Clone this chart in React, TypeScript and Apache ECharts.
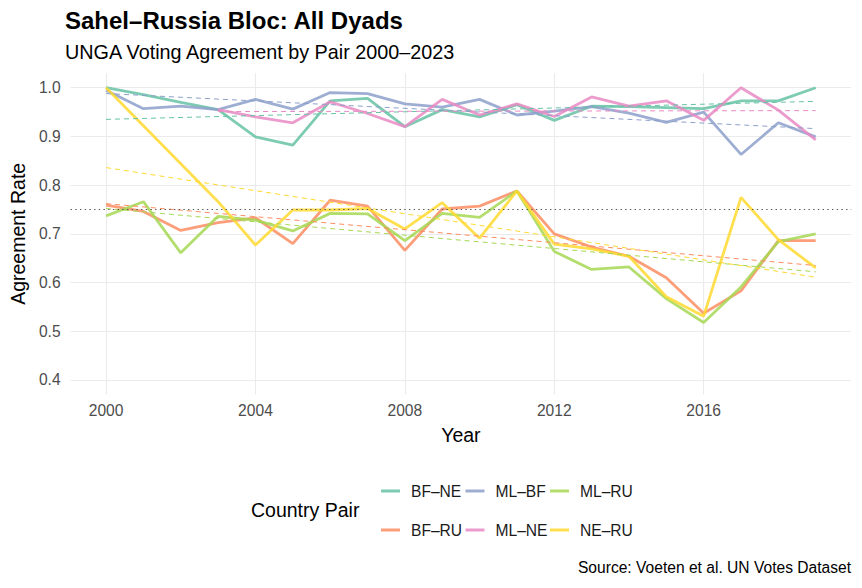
import React, { useEffect, useRef } from "react";
import * as echarts from "echarts";

// ---------------- data ----------------
const YEARS = [2000, 2001, 2002, 2003, 2004, 2005, 2006, 2007, 2008, 2009, 2010, 2011, 2012, 2013, 2014, 2015, 2016, 2017, 2018, 2019];

const PAIRS = ["BF–NE", "BF–RU", "ML–BF", "ML–NE", "ML–RU", "NE–RU"];
const PAIR_COLORS = ["#66C2A5", "#FC8D62", "#8DA0CB", "#E78AC3", "#A6D854", "#FFD92F"];

const BF_NE = [1.0, 0.986, 0.97, 0.955, 0.899, 0.882, 0.973, 0.978, 0.92, 0.955, 0.94, 0.965, 0.933, 0.962, 0.961, 0.959, 0.957, 0.973, 0.973, 1.0];
const BF_RU = [0.759, 0.746, 0.707, 0.723, 0.733, 0.68, 0.769, 0.757, 0.666, 0.751, 0.757, 0.788, 0.7, 0.673, 0.654, 0.61, 0.537, 0.583, 0.686, 0.686];
const ML_BF = [0.995, 0.957, 0.962, 0.955, 0.976, 0.956, 0.99, 0.988, 0.967, 0.96, 0.976, 0.944, 0.952, 0.961, 0.948, 0.929, 0.95, 0.863, 0.928, 0.899];
const ML_NE = [null, null, null, 0.955, 0.94, 0.928, 0.971, 0.947, 0.92, 0.976, 0.944, 0.967, 0.941, 0.981, 0.962, 0.973, 0.933, 1.0, 0.954, 0.893];
const ML_RU = [0.737, 0.766, 0.661, 0.736, 0.728, 0.706, 0.742, 0.741, 0.686, 0.742, 0.734, 0.788, 0.664, 0.627, 0.632, 0.567, 0.518, 0.591, 0.684, 0.7];
const NE_RU = [1.0, null, null, 0.766, 0.677, 0.749, 0.749, 0.752, 0.71, 0.764, 0.691, 0.788, 0.679, 0.669, 0.654, 0.571, 0.531, 0.775, 0.688, 0.63];
const PAIR_VALUES = [BF_NE, BF_RU, ML_BF, ML_NE, ML_RU, NE_RU];

// linear trend lines: start year, start value, end year, end value
const TREND_START_YEAR = [2000, 2000, 2000, 2003, 2000, 2000];
const TREND_START_VALUE = [0.935, 0.762, 0.988, 0.951, 0.752, 0.836];
const TREND_END_YEAR = [2019, 2019, 2019, 2019, 2019, 2019];
const TREND_END_VALUE = [0.972, 0.635, 0.916, 0.953, 0.622, 0.611];

const REFERENCE_LEVEL = 0.75;

const X_TICKS = [2000, 2004, 2008, 2012, 2016];
const Y_TICKS = [0.4, 0.5, 0.6, 0.7, 0.8, 0.9, 1.0];

// legend columns (filled by column, two rows)
const LEGEND_COLUMNS = [["BF–NE", "BF–RU"], ["ML–BF", "ML–NE"], ["ML–RU", "NE–RU"]];

const TITLE = "Sahel–Russia Bloc: All Dyads";
const SUBTITLE = "UNGA Voting Agreement by Pair 2000–2023";
const CAPTION = "Source: Voeten et al. UN Votes Dataset";
const X_TITLE = "Year";
const Y_TITLE = "Agreement Rate";
const LEGEND_TITLE = "Country Pair";

const FONT = "'Liberation Sans', Arial, Helvetica, sans-serif";

export default function App() {
  const ref = useRef<HTMLDivElement>(null);

  useEffect(() => {
    document.body.style.margin = "0";
    if (!ref.current) return;
    const chart = echarts.init(ref.current, null, { renderer: "svg" });

    const lineSeries: any[] = PAIRS.map((name, i) => ({
      name,
      type: "line",
      data: YEARS.map((y, j) => [y, PAIR_VALUES[i][j]]),
      connectNulls: true,
      showSymbol: false,
      symbol: "none",
      color: PAIR_COLORS[i],
      lineStyle: { width: 2.8, opacity: 0.85, color: PAIR_COLORS[i] },
      z: 3,
      ...(i === 0
        ? {
            markLine: {
              silent: true,
              symbol: ["none", "none"],
              label: { show: false },
              lineStyle: { type: [1.4, 3.3], color: "#555555", width: 1.1 },
              data: [{ yAxis: REFERENCE_LEVEL }],
            },
          }
        : {}),
    }));

    const trendSeries: any[] = PAIRS.map((name, i) => ({
      name: name + " trend",
      type: "line",
      data: [
        [TREND_START_YEAR[i], TREND_START_VALUE[i]],
        [TREND_END_YEAR[i], TREND_END_VALUE[i]],
      ],
      showSymbol: false,
      symbol: "none",
      silent: true,
      color: PAIR_COLORS[i],
      lineStyle: { width: 1, type: [5, 4], color: PAIR_COLORS[i] },
      z: 4,
    }));

    const legends = LEGEND_COLUMNS.map((col, k) => ({
      data: col,
      orient: "vertical",
      left: 381 + k * 84.5,
      top: 482,
      padding: 0,
      itemWidth: 19,
      itemHeight: 3,
      itemGap: 21,
      icon: "rect",
      itemStyle: { opacity: 0.85 },
      selectedMode: false,
      textStyle: {
        fontFamily: FONT,
        fontSize: 15.6,
        lineHeight: 18,
        color: "#1A1A1A",
        padding: [0, 0, 0, 6],
      },
    }));

    chart.setOption({
      animation: false,
      textStyle: { fontFamily: FONT },
      title: [
        {
          text: TITLE,
          left: 65,
          top: 8,
          padding: 0,
          textStyle: { fontFamily: FONT, fontSize: 24, fontWeight: "bold", color: "#000000", lineHeight: 24 },
        },
        {
          text: SUBTITLE,
          left: 65,
          top: 42,
          padding: 0,
          textStyle: { fontFamily: FONT, fontSize: 19.8, fontWeight: "normal", color: "#000000", lineHeight: 19.8 },
        },
        {
          text: CAPTION,
          right: 11,
          top: 560,
          padding: 0,
          textStyle: { fontFamily: FONT, fontSize: 15.6, fontWeight: "normal", color: "#000000", lineHeight: 15.6 },
        },
      ],
      legend: legends,
      graphic: [
        {
          type: "text",
          left: 251,
          top: 500,
          style: { text: LEGEND_TITLE, font: `19.5px ${FONT}`, fill: "#000000" },
        },
      ],
      grid: { left: 65.3, right: 10.8, top: 73.1, bottom: 193.4, containLabel: false },
      xAxis: {
        type: "value",
        min: 1999.05,
        max: 2019.95,
        name: X_TITLE,
        nameLocation: "middle",
        nameGap: 30,
        nameTextStyle: { fontFamily: FONT, fontSize: 19.5, color: "#000000" },
        axisLine: { show: false },
        axisTick: { show: false, customValues: X_TICKS },
        axisLabel: {
          customValues: X_TICKS,
          formatter: (v: number) => String(v),
          fontFamily: FONT,
          fontSize: 15.6,
          color: "#4D4D4D",
          margin: 8,
        },
        splitLine: { show: true, lineStyle: { color: "#EBEBEB", width: 1.1 } },
      },
      yAxis: {
        type: "value",
        min: 0.37,
        max: 1.03,
        name: Y_TITLE,
        nameLocation: "middle",
        nameGap: 36,
        nameTextStyle: { fontFamily: FONT, fontSize: 19.5, color: "#000000" },
        axisLine: { show: false },
        axisTick: { show: false, customValues: Y_TICKS },
        axisLabel: {
          customValues: Y_TICKS,
          formatter: (v: number) => v.toFixed(1),
          fontFamily: FONT,
          fontSize: 15.6,
          color: "#4D4D4D",
          margin: 10,
        },
        splitLine: { show: true, lineStyle: { color: "#EBEBEB", width: 1.1 } },
      },
      series: [...lineSeries, ...trendSeries],
    });

    return () => chart.dispose();
  }, []);

  return <div ref={ref} style={{ width: 862, height: 588 }} />;
}
